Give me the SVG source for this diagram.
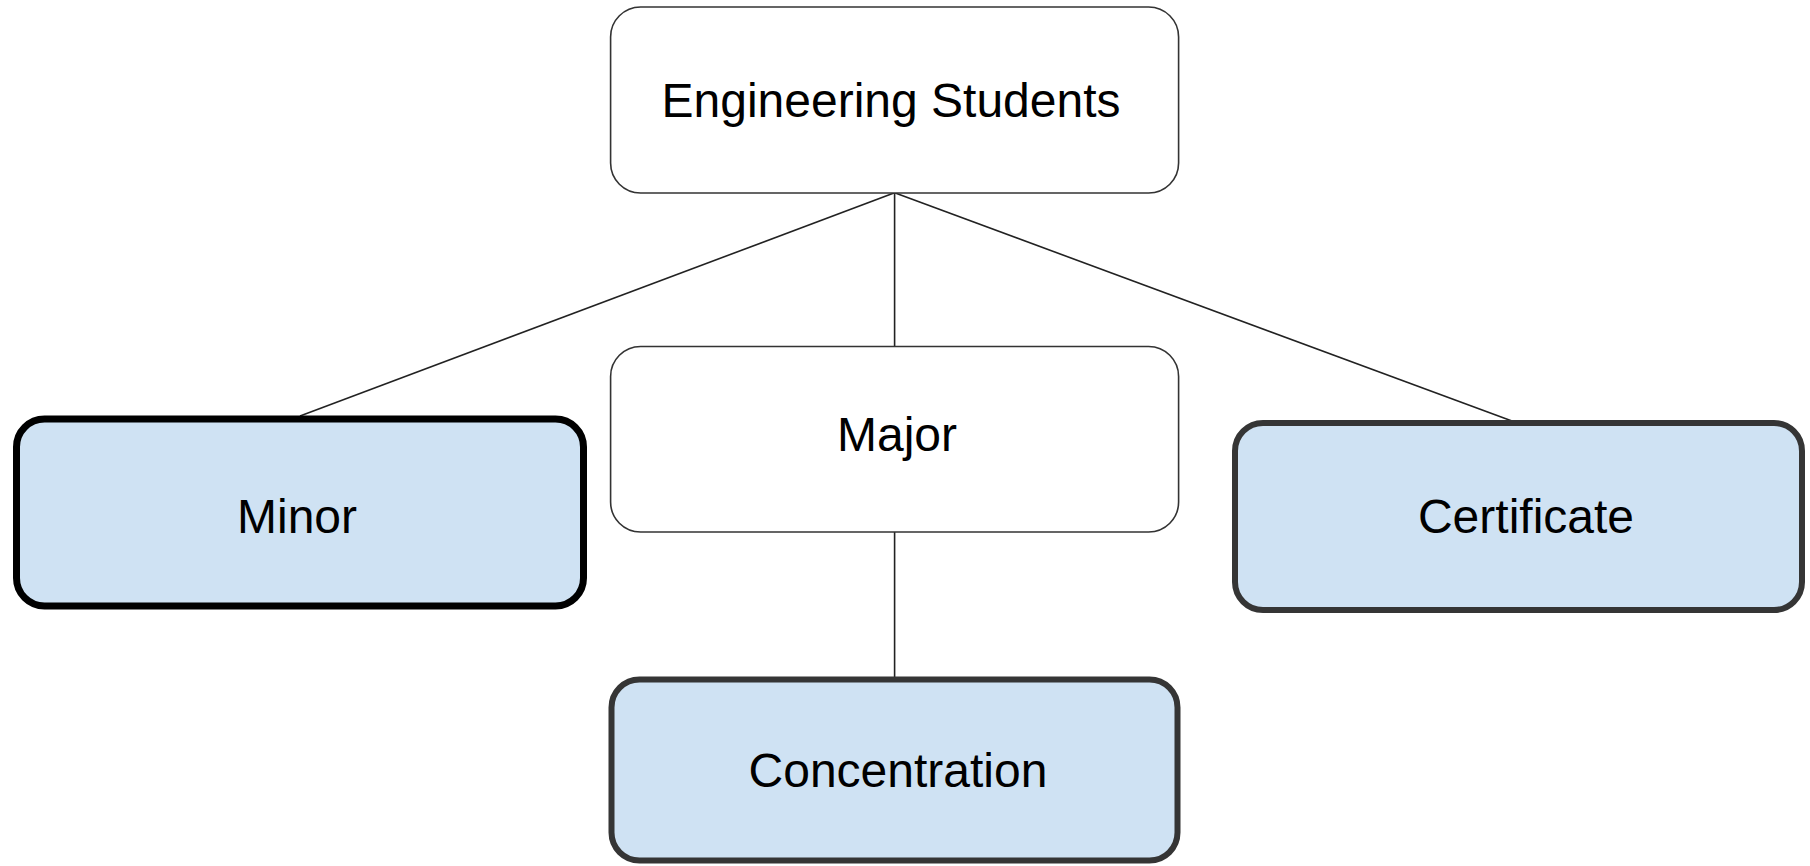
<svg xmlns="http://www.w3.org/2000/svg" width="1810" height="866" viewBox="0 0 1810 866">
<style>
.lbl{font-family:"Liberation Sans",Arial,sans-serif;font-size:48px;fill:#000;text-anchor:middle}
.plain{fill:#fff;stroke:#333;stroke-width:1.6}
.hl{fill:#cfe2f3;stroke:#353535;stroke-width:6}
.hlk{fill:#cfe2f3;stroke:#000;stroke-width:7}
.conn line{stroke:#222;stroke-width:1.6}
</style>
<rect width="1810" height="866" fill="#fff"/>
<g id="connectors" class="conn">
<line x1="894.6" y1="192.8" x2="300" y2="416"/>
<line x1="894.6" y1="192.8" x2="894.6" y2="346.5"/>
<line x1="894.6" y1="192.8" x2="1512" y2="421"/>
<line x1="894.6" y1="532" x2="894.6" y2="677"/>
</g>
<g id="engineering-students">
<rect class="plain" x="610.6" y="7" width="568" height="186" rx="30"/>
<text class="lbl" x="891" y="117">Engineering Students</text>
</g>
<g id="major">
<rect class="plain" x="610.6" y="346.5" width="568" height="185.5" rx="30"/>
<text class="lbl" x="897" y="451">Major</text>
</g>
<g id="minor">
<rect class="hlk" x="16.5" y="419" width="567" height="187" rx="28"/>
<text class="lbl" x="297" y="533">Minor</text>
</g>
<g id="certificate">
<rect class="hl" x="1235" y="423" width="567" height="187" rx="28"/>
<text class="lbl" x="1526" y="533">Certificate</text>
</g>
<g id="concentration">
<rect class="hl" x="611.5" y="679.5" width="566" height="181" rx="28"/>
<text class="lbl" x="898" y="787">Concentration</text>
</g>
</svg>
